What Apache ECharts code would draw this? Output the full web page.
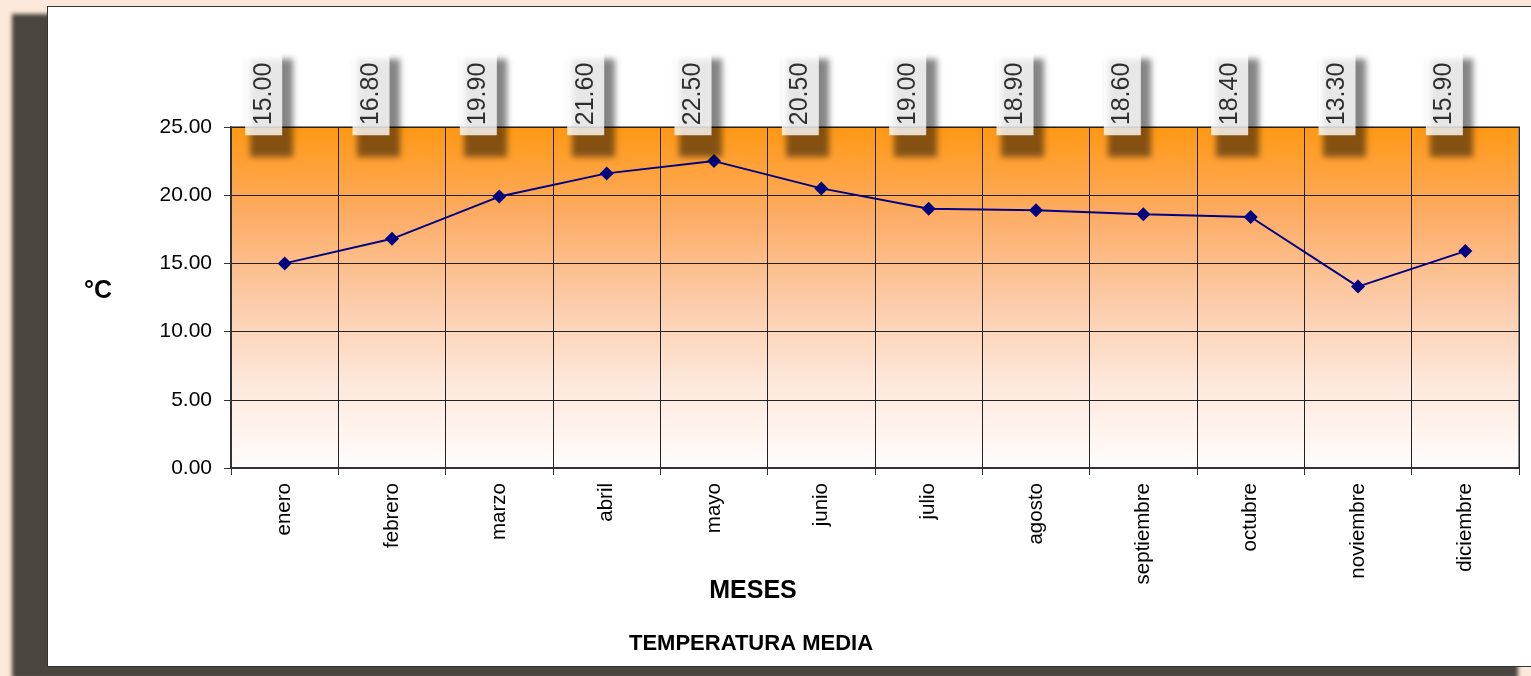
<!DOCTYPE html>
<html><head><meta charset="utf-8">
<script src="https://cdn.jsdelivr.net/npm/echarts@6/dist/echarts.min.js"></script>
<style>
html,body{margin:0;padding:0;width:1531px;height:676px;overflow:hidden;background:#fce9db;}
#box{position:absolute;left:47px;top:6px;width:1500px;height:659px;background:#fff;border:1px solid #333;box-shadow:-33px 10px 4px 2px #4a453e;}
#chart{position:absolute;left:0;top:0;width:1531px;height:676px;}
</style></head>
<body>
<div id="box"></div>
<div id="chart"></div>
<script>
const months = ['enero','febrero','marzo','abril','mayo','junio','julio','agosto','septiembre','octubre','noviembre','diciembre'];
const temps = [15.00,16.80,19.90,21.60,22.50,20.50,19.00,18.90,18.60,18.40,13.30,15.90];
const yTicks = {min:0, max:25, interval:5};
const labelRowValue = 24.4;
const FONT = "'Liberation Sans', Arial, sans-serif";

const baseLabel = {show:true, position:'inside', rotate:90, align:'left', verticalAlign:'middle',
  formatter:p=>p.data.raw.toFixed(2), fontFamily:FONT, fontSize:25, lineHeight:25};
const labelData = temps.map(v=>({value:labelRowValue, raw:v}));

const chart = echarts.init(document.getElementById('chart'), null, {renderer:'canvas'});
chart.setOption({
  backgroundColor:'transparent',
  animation:false,
  title:[
    {text:'MESES', left:748, top:574, textAlign:'center', textStyle:{fontFamily:FONT, fontSize:25, fontWeight:'bold', color:'#000'}},
    {text:'TEMPERATURA MEDIA', left:746, top:628, textAlign:'center', textStyle:{fontFamily:FONT, fontSize:22, fontWeight:'bold', color:'#000'}},
    {text:'°C', left:93, top:274, textAlign:'center', textStyle:{fontFamily:FONT, fontSize:25, fontWeight:'bold', color:'#000'}}
  ],
  grid:{left:231, right:12, top:127, bottom:208, show:true, borderColor:'#888', borderWidth:2,
    backgroundColor:new echarts.graphic.LinearGradient(0,0,0,1,[
      {offset:0,color:'#ff9812'},{offset:0.25,color:'#fdab62'},{offset:0.5,color:'#fccaa6'},{offset:0.75,color:'#fde8dc'},{offset:1,color:'#fffdfc'}])},
  xAxis:{type:'category', data:months, boundaryGap:true,
    axisLine:{lineStyle:{color:'#333', width:2}},
    axisTick:{show:true, length:7, lineStyle:{color:'#333'}},
    splitLine:{show:true, lineStyle:{color:'#222', width:1}},
    axisLabel:{rotate:90, margin:15, fontFamily:FONT, fontSize:20.5, color:'#000'}},
  yAxis:{type:'value', min:yTicks.min, max:yTicks.max, interval:yTicks.interval,
    axisLine:{show:true, lineStyle:{color:'#333', width:2}},
    axisTick:{show:true, length:7, lineStyle:{color:'#333'}},
    splitLine:{show:true, lineStyle:{color:'#222', width:1}},
    axisLabel:{margin:19, fontFamily:FONT, fontSize:21, color:'#000', formatter:v=>v.toFixed(2)}},
  series:[
    {type:'line', data:temps, symbol:'diamond', symbolSize:14, z:5,
      lineStyle:{color:'#000080', width:2}, itemStyle:{color:'#000080'}},
    {type:'scatter', z:10, symbolSize:0, silent:true, data:labelData,
      label:Object.assign({}, baseLabel, {color:'rgba(0,0,0,0)', offset:[1000,-13.5],
        backgroundColor:'#000', padding:[9,18,9,17.5],
        shadowColor:'rgba(0,0,0,0.6)', shadowBlur:6, shadowOffsetX:0, shadowOffsetY:1022})},
    {type:'scatter', z:12, symbolSize:0, silent:true, data:labelData,
      label:Object.assign({}, baseLabel, {color:'#000', offset:[0,-21],
        backgroundColor:'#fff', padding:[6,10,6,10]})}
  ]
});
</script>
</body></html>
